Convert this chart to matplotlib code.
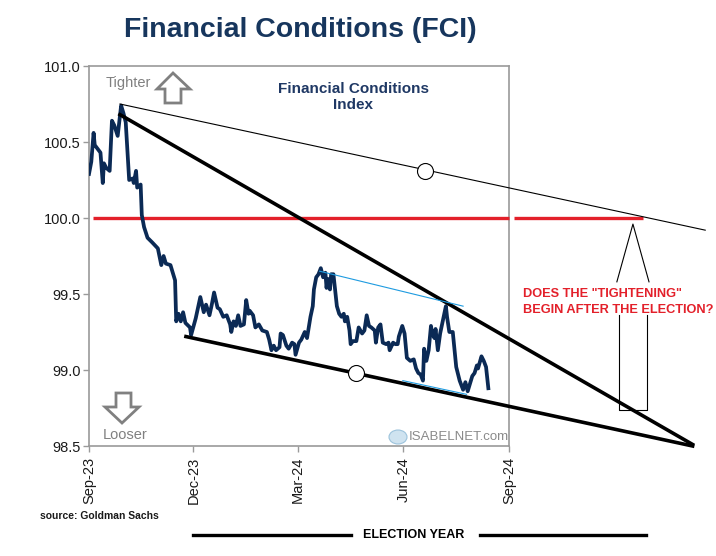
import numpy as np
import pandas as pd
import matplotlib
matplotlib.use("Agg")
import matplotlib.pyplot as plt
import matplotlib.dates as mdates
from matplotlib.patches import Polygon, Circle

# ---------------- data ----------------
start_date = "2023-09-01"
day_offset = [0, 2, 4, 5, 8, 10, 12, 13, 15, 18, 20, 22, 25, 28, 30, 32, 34, 35, 38, 39,
              41, 42, 45, 46, 48, 51, 55, 60, 63, 65, 67, 71, 73, 75, 76, 78, 80, 82, 84, 88,
              89, 93, 97, 100, 102, 105, 107, 109, 112, 114, 117, 120, 123, 124, 126, 128, 130, 132, 135, 137,
              139, 140, 143, 145, 148, 151, 155, 157, 159, 161, 163, 166, 167, 169, 172, 174, 177, 179, 180, 183,
              185, 188, 190, 193, 195, 196, 198, 200, 202, 204, 206, 207, 208, 210, 211, 213, 216, 218, 220, 222,
              223, 225, 227, 228, 230, 233, 235, 238, 240, 242, 244, 246, 249, 250, 252, 254, 256, 259, 261, 262,
              265, 267, 269, 270, 273, 275, 277, 280, 283, 285, 287, 289, 291, 292, 294, 296, 298, 299, 301, 302,
              304, 306, 309, 311, 312, 314, 317, 320, 323, 326, 328, 330, 332, 334, 336, 338, 339, 342, 344, 346,
              348]
fci = [100.29, 100.37, 100.56, 100.48, 100.45, 100.43, 100.23, 100.36, 100.33, 100.31,
       100.64, 100.61, 100.54, 100.74, 100.69, 100.63, 100.37, 100.25, 100.26, 100.23,
       100.31, 100.20, 100.22, 100.02, 99.94, 99.87, 99.84, 99.80, 99.69, 99.75,
       99.70, 99.69, 99.64, 99.59, 99.32, 99.37, 99.32, 99.38, 99.31, 99.28,
       99.23, 99.34, 99.48, 99.38, 99.43, 99.36, 99.43, 99.51, 99.41, 99.40,
       99.35, 99.36, 99.30, 99.25, 99.32, 99.29, 99.36, 99.29, 99.30, 99.46,
       99.37, 99.39, 99.36, 99.28, 99.30, 99.26, 99.25, 99.20, 99.13, 99.16,
       99.13, 99.15, 99.24, 99.23, 99.16, 99.14, 99.18, 99.17, 99.10, 99.18,
       99.20, 99.25, 99.21, 99.35, 99.42, 99.53, 99.61, 99.63, 99.67, 99.61,
       99.64, 99.54, 99.60, 99.53, 99.63, 99.63, 99.42, 99.37, 99.35, 99.37,
       99.32, 99.35, 99.26, 99.17, 99.19, 99.19, 99.28, 99.24, 99.26, 99.36,
       99.29, 99.28, 99.26, 99.18, 99.28, 99.30, 99.18, 99.17, 99.18, 99.13,
       99.18, 99.17, 99.17, 99.22, 99.29, 99.24, 99.08, 99.06, 99.07, 99.01,
       98.98, 98.97, 98.93, 99.14, 99.06, 99.13, 99.29, 99.24, 99.21, 99.27,
       99.13, 99.24, 99.35, 99.42, 99.35, 99.25, 99.25, 99.02, 98.93, 98.87,
       98.92, 98.86, 98.91, 98.96, 98.98, 99.03, 99.01, 99.09, 99.06, 99.02,
       98.88]

tick_dates = ["2023-09-01", "2023-12-01", "2024-03-01", "2024-06-01", "2024-09-01"]
tick_labels = ["Sep-23", "Dec-23", "Mar-24", "Jun-24", "Sep-24"]
y_ticks = [98.5, 99.0, 99.5, 100.0, 100.5, 101.0]

# trend lines (day offset, value)
upper_thin = ([27, 537], [100.75, 99.92])
upper_thick = ([27, 526], [100.68, 98.51])
lower_thick = ([84.5, 526], [99.22, 98.50])
cyan_upper = ([201, 326], [99.65, 99.42])
cyan_lower = ([273.5, 329], [98.93, 98.84])
circles = ([292.7, 232.6], [100.31, 98.98])
red_level = 100.0
red_segments = [(3.5, 366), (370, 482.6)]

# ---------------- figure ----------------
W, H = 716, 556
fig = plt.figure(figsize=(W / 100, H / 100), dpi=100)
fig.patch.set_facecolor("white")
ax = fig.add_axes([89 / W, 110 / H, 420 / W, 380 / H])

t0 = mdates.date2num(pd.Timestamp(start_date))
def dnum(d):
    return t0 + np.asarray(d, dtype=float)

navy = "#0b2a55"
gray_sp = "#9a9a9a"

ax.plot(dnum(day_offset), fci, color=navy, lw=2.7, zorder=4, solid_joinstyle="round")

# red level line
for a, b in red_segments:
    ax.plot(dnum([a, b]), [red_level, red_level], color="#e3202a", lw=2.4, zorder=3,
            clip_on=False, solid_capstyle="butt")

# trend lines
ax.plot(dnum(upper_thin[0]), upper_thin[1], color="black", lw=0.8, zorder=5, clip_on=False)
ax.plot(dnum(upper_thick[0]), upper_thick[1], color="black", lw=2.6, zorder=5, clip_on=False)
ax.plot(dnum(lower_thick[0]), lower_thick[1], color="black", lw=2.6, zorder=5, clip_on=False)
ax.plot(dnum(cyan_upper[0]), cyan_upper[1], color="#1e9be0", lw=0.8, zorder=5)
ax.plot(dnum(cyan_lower[0]), cyan_lower[1], color="#1e9be0", lw=0.8, zorder=5)
ax.plot(dnum(circles[0]), circles[1], "o", ms=11.5, mfc="white", mec="black", mew=0.8,
        zorder=6, clip_on=False)

# right-side arrow annotation
arrow_tip = (474, 99.96)
arrow_base = ([460, 488], 99.58)
ax.plot(dnum([arrow_base[0][0], arrow_tip[0], arrow_base[0][1]]),
        [arrow_base[1], arrow_tip[1], arrow_base[1]], color="black", lw=0.8, clip_on=False)
box_x = [461.7, 486]
box_y = [99.36, 98.74]
ax.plot(dnum([box_x[0], box_x[0], box_x[1], box_x[1]]),
        [box_y[0], box_y[1], box_y[1], box_y[0]], color="black", lw=0.8, clip_on=False, zorder=2)

ax.set_xlim(dnum(0), dnum(366))
ax.set_ylim(98.5, 101.0)
ax.set_yticks(y_ticks)
ax.set_yticklabels([f"{v:.1f}" for v in y_ticks])
ax.set_xticks([mdates.date2num(pd.Timestamp(d)) for d in tick_dates])
ax.set_xticklabels(tick_labels, rotation=90)
for s in ax.spines.values():
    s.set_color(gray_sp)
    s.set_linewidth(1.2)
ax.tick_params(axis="both", colors=gray_sp, labelcolor="#1a1a1a", length=4, width=1.0,
               labelsize=10.5, direction="out")
ax.tick_params(axis="y", pad=2)
ax.tick_params(axis="x", pad=4)
for lab in ax.get_xticklabels() + ax.get_yticklabels():
    lab.set_fontfamily(["Liberation Sans", "DejaVu Sans"])

# --------- helper for pixel -> figure fraction ---------
def fx(px):
    return px / W
def fy(py):
    return 1 - py / H

# title
fig.text(fx(300), fy(30), "Financial Conditions (FCI)", ha="center", va="center",
         fontsize=20.5, fontweight="bold", color="#17365d",
         family=["Liberation Sans", "DejaVu Sans"])

fig.text(fx(353), fy(97), "Financial Conditions\nIndex", ha="center", va="center",
         fontsize=11, fontweight="bold", color="#1f3864", linespacing=1.2,
         family=["Liberation Sans", "DejaVu Sans"])

fig.text(fx(128), fy(83), "Tighter", ha="center", va="center", fontsize=10.5,
         color="#808080", family=["Liberation Sans", "DejaVu Sans"])
fig.text(fx(125), fy(435), "Looser", ha="center", va="center", fontsize=10.5,
         color="#808080", family=["Liberation Sans", "DejaVu Sans"])

# outline arrows (pixel shapes)
up = [(173, 73), (190, 89), (181, 89), (181, 103), (165, 103), (165, 89), (157, 89)]
dn = [(116, 393), (131, 393), (131, 407), (139, 407), (122, 423), (105, 407), (116, 407)]
for shape in (up, dn):
    fig.patches.append(Polygon([(fx(x), fy(y)) for x, y in shape], closed=True,
                               transform=fig.transFigure, fill=False,
                               edgecolor="#808080", lw=2.0, joinstyle="miter"))

# watermark
fig.patches.append(Circle((fx(398), fy(437)), 9 / W, transform=fig.transFigure,
                          facecolor="#cfe3f0", edgecolor="#9cc3dc", lw=0.8))
fig.text(fx(409), fy(437), "ISABELNET.com", ha="left", va="center", fontsize=9.5,
         color="#8a8a8a", family=["Liberation Sans", "DejaVu Sans"])

# red question
fig.text(fx(523), fy(302), "DOES THE \"TIGHTENING\"\nBEGIN AFTER THE ELECTION?",
         ha="left", va="center", fontsize=9.2, fontweight="bold", color="#e3202a",
         linespacing=1.4, family=["Liberation Sans", "DejaVu Sans"])

# source
fig.text(fx(40), fy(516), "source: Goldman Sachs", ha="left", va="center", fontsize=7.5,
         fontweight="bold", color="#1a1a1a",
         family=["Liberation Sans", "DejaVu Sans"])

# election year
fig.text(fx(414), fy(535), "ELECTION YEAR", ha="center", va="center", fontsize=9,
         fontweight="bold", color="black",
         family=["Liberation Sans", "DejaVu Sans"])
for x0, x1 in [(193, 351), (480, 646)]:
    fig.add_artist(plt.Line2D([fx(x0), fx(x1)], [fy(535), fy(535)], color="black", lw=2.4,
                              transform=fig.transFigure))

fig.savefig("out.png", dpi=100, facecolor="white")
